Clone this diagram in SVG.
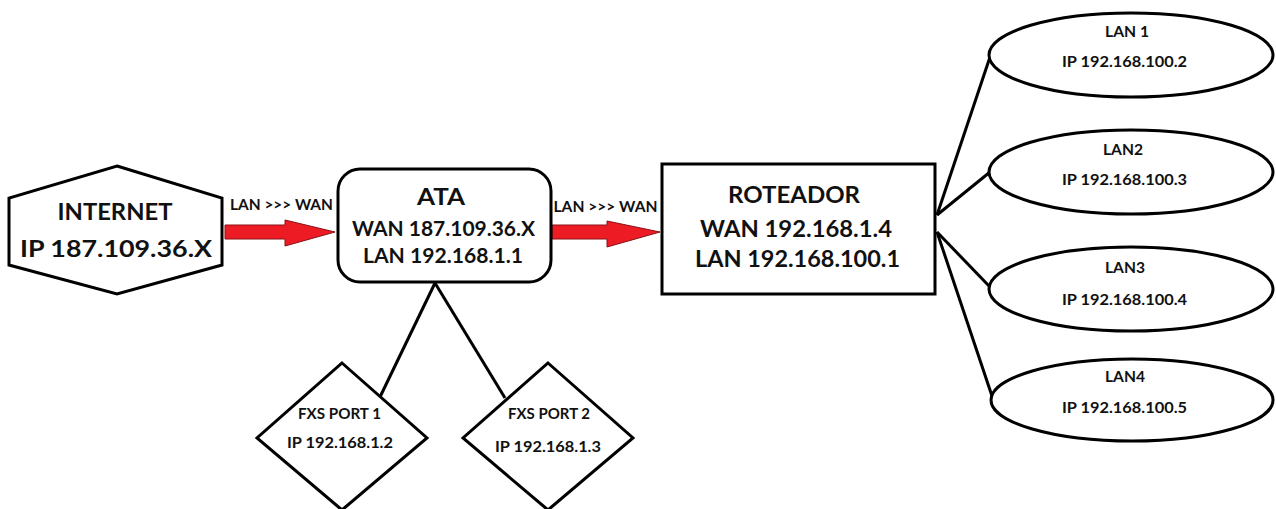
<svg xmlns="http://www.w3.org/2000/svg" width="1276" height="509" viewBox="0 0 1276 509">
<style>
text{font-family:Lato,"Liberation Sans",sans-serif;font-weight:bold;fill:#111;text-anchor:middle}
.big{font-size:23px}
.mid{font-size:21px}
.sm{font-size:14.5px}
.shape{fill:#fff;stroke:#000;stroke-width:3}
.conn{stroke:#000;stroke-width:3;fill:none}
.arrow{fill:#ed1c24;stroke:#8a1016;stroke-width:1}
</style>
<rect width="1276" height="509" fill="#fff"/>
<g id="connectors">
<polygon class="arrow" points="225,225 285,225 285,220 335,232 285,246 285,239 225,239"/>
<text class="sm" x="281.5" y="210" textLength="103" lengthAdjust="spacingAndGlyphs">LAN &gt;&gt;&gt; WAN</text>
<polygon class="arrow" points="552,225 607,225 607,221 660,232 607,247 607,239 552,239"/>
<text class="sm" x="605.5" y="212" textLength="104" lengthAdjust="spacingAndGlyphs">LAN &gt;&gt;&gt; WAN</text>
<line class="conn" x1="435" y1="283" x2="380" y2="397"/>
<line class="conn" x1="435" y1="283" x2="505" y2="398"/>
<line class="conn" x1="937" y1="215" x2="990" y2="57"/>
<line class="conn" x1="937" y1="215" x2="990" y2="172"/>
<line class="conn" x1="937" y1="232" x2="990" y2="287"/>
<line class="conn" x1="937" y1="232" x2="992" y2="396"/>
</g>
<g id="internet">
<polygon class="shape" points="117,166 222,198 222,265 117,294 9,265 9,198"/>
<text class="big" x="115" y="220" textLength="115" lengthAdjust="spacingAndGlyphs">INTERNET</text>
<text class="big" x="116" y="257" textLength="192" lengthAdjust="spacingAndGlyphs">IP 187.109.36.X</text>
</g>
<g id="ata">
<rect class="shape" x="338" y="169" width="213" height="113" rx="22"/>
<text class="big" x="441" y="205" textLength="48" lengthAdjust="spacingAndGlyphs">ATA</text>
<text class="mid" x="443.5" y="236" textLength="183" lengthAdjust="spacingAndGlyphs">WAN 187.109.36.X</text>
<text class="mid" x="443" y="263" textLength="160" lengthAdjust="spacingAndGlyphs">LAN 192.168.1.1</text>
</g>
<g id="roteador">
<rect class="shape" x="662" y="164" width="273" height="130"/>
<text class="big" x="794" y="203" textLength="132" lengthAdjust="spacingAndGlyphs">ROTEADOR</text>
<text class="big" x="796" y="237" textLength="192" lengthAdjust="spacingAndGlyphs">WAN 192.168.1.4</text>
<text class="big" x="797.5" y="267" textLength="205" lengthAdjust="spacingAndGlyphs">LAN 192.168.100.1</text>
</g>
<g id="fxs1">
<polygon class="shape" points="342,363 427,438 342,510 257,438"/>
<text class="sm" x="339.5" y="419" textLength="83" lengthAdjust="spacingAndGlyphs">FXS PORT 1</text>
<text class="sm" x="340" y="448" textLength="106" lengthAdjust="spacingAndGlyphs">IP 192.168.1.2</text>
</g>
<g id="fxs2">
<polygon class="shape" points="548,363 633,438 548,510 463,438"/>
<text class="sm" x="549" y="419" textLength="82" lengthAdjust="spacingAndGlyphs">FXS PORT 2</text>
<text class="sm" x="548" y="452" textLength="106" lengthAdjust="spacingAndGlyphs">IP 192.168.1.3</text>
</g>
<g id="lan1">
<ellipse class="shape" cx="1131" cy="55" rx="142" ry="42"/>
<text class="sm" x="1127" y="37" textLength="44" lengthAdjust="spacingAndGlyphs">LAN 1</text>
<text class="sm" x="1124.5" y="67" textLength="125" lengthAdjust="spacingAndGlyphs">IP 192.168.100.2</text>
</g>
<g id="lan2">
<ellipse class="shape" cx="1131" cy="172" rx="142" ry="42"/>
<text class="sm" x="1123" y="155" textLength="40" lengthAdjust="spacingAndGlyphs">LAN2</text>
<text class="sm" x="1124.5" y="185" textLength="125" lengthAdjust="spacingAndGlyphs">IP 192.168.100.3</text>
</g>
<g id="lan3">
<ellipse class="shape" cx="1131" cy="289" rx="142" ry="42"/>
<text class="sm" x="1125" y="273" textLength="40" lengthAdjust="spacingAndGlyphs">LAN3</text>
<text class="sm" x="1124.5" y="305" textLength="125" lengthAdjust="spacingAndGlyphs">IP 192.168.100.4</text>
</g>
<g id="lan4">
<ellipse class="shape" cx="1132" cy="400" rx="141" ry="41"/>
<text class="sm" x="1125" y="382" textLength="40" lengthAdjust="spacingAndGlyphs">LAN4</text>
<text class="sm" x="1124.5" y="413" textLength="125" lengthAdjust="spacingAndGlyphs">IP 192.168.100.5</text>
</g>
</svg>
